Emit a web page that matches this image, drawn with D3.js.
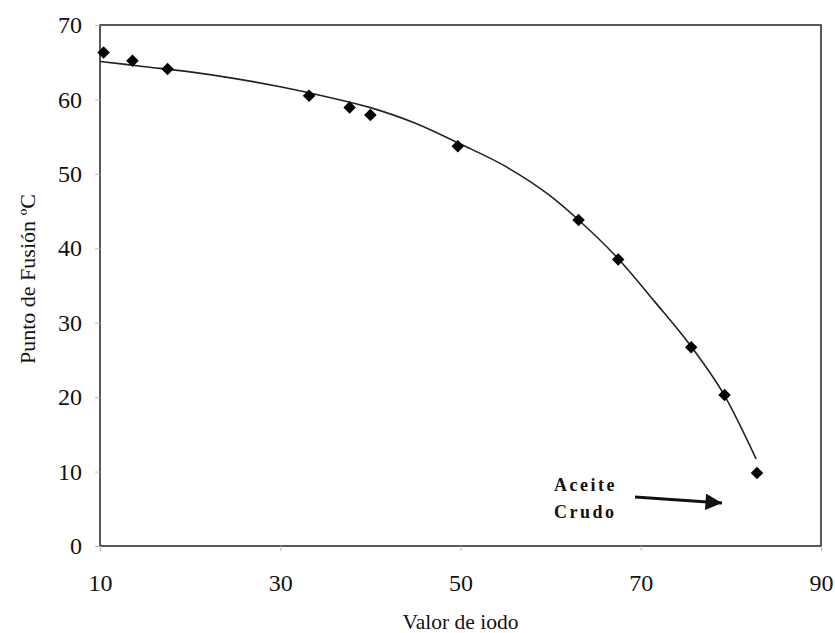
<!DOCTYPE html>
<html>
<head>
<meta charset="utf-8">
<script src="https://cdn.jsdelivr.net/npm/d3@7"></script>
<style>
  body { margin: 0; background: #fff; }
  svg text { font-family: "Liberation Serif", "DejaVu Serif", serif; fill: #111; }
</style>
</head>
<body>
<div id="chart"></div>
<script>
// Measured points (Valor de iodo, Punto de fusión)
const iodineValues = [10.4, 13.6, 17.5, 33.2, 37.7, 40.0, 49.7, 63.1, 67.5, 75.6, 79.3, 82.9];
const meltingPoints = [66.3, 65.2, 64.1, 60.5, 58.9, 57.9, 53.7, 43.8, 38.5, 26.7, 20.3, 9.8];

// Trend line
const trendX = [10, 15, 20, 25, 30, 35, 40, 45, 50, 55, 60, 63.1, 67.5, 71.5, 75.6, 79.3, 82.8];
const trendY = [65.1, 64.4, 63.7, 62.8, 61.7, 60.4, 58.9, 56.8, 54.0, 51.0, 47.0, 43.8, 38.6, 32.9, 26.8, 20.2, 11.7];

const xTicks = [10, 30, 50, 70, 90];
const yTicks = [0, 10, 20, 30, 40, 50, 60, 70];

const width = 835, height = 633;
const margin = { top: 25, right: 14, bottom: 87, left: 100 };

const svg = d3.select("#chart")
    .append("svg")
    .attr("width", width)
    .attr("height", height);

const x = d3.scaleLinear().domain([10, 90]).range([margin.left, width - margin.right]);
const y = d3.scaleLinear().domain([0, 70]).range([height - margin.bottom, margin.top]);

// plot frame
svg.append("rect")
    .attr("x", x(10))
    .attr("y", y(70))
    .attr("width", x(90) - x(10))
    .attr("height", y(0) - y(70))
    .attr("fill", "none")
    .attr("stroke", "#222")
    .attr("stroke-width", 1.5);

// axes
const xAxis = svg.append("g")
    .attr("transform", `translate(0,${y(0)})`)
    .call(d3.axisBottom(x).tickValues(xTicks).tickSize(5).tickPadding(23));
const yAxis = svg.append("g")
    .attr("transform", `translate(${x(10)},0)`)
    .call(d3.axisLeft(y).tickValues(yTicks).tickSize(5).tickPadding(13));

[xAxis, yAxis].forEach(g => {
    g.select(".domain").remove();
    g.selectAll(".tick line").attr("stroke", "#bbb");
    g.selectAll(".tick text")
        .style("font-size", "24px")
        .style("font-family", "'Liberation Serif', serif")
        .attr("fill", "#111");
});

// trend line
const trend = trendX.map((v, i) => [v, trendY[i]]);
svg.append("path")
    .datum(trend)
    .attr("fill", "none")
    .attr("stroke", "#222")
    .attr("stroke-width", 1.6)
    .attr("d", d3.line().x(d => x(d[0])).y(d => y(d[1])).curve(d3.curveMonotoneX));

// diamonds
const points = iodineValues.map((v, i) => [v, meltingPoints[i]]);
svg.selectAll(".pt")
    .data(points)
    .enter().append("path")
    .attr("class", "pt")
    .attr("d", d3.symbol().type(d3.symbolSquare).size(78))
    .attr("transform", d => `translate(${x(d[0])},${y(d[1])}) rotate(45)`)
    .attr("fill", "#000");

// axis titles
svg.append("text")
    .attr("x", (x(10) + x(90)) / 2)
    .attr("y", 629)
    .attr("text-anchor", "middle")
    .style("font-size", "21.5px")
    .text("Valor de iodo");

svg.append("text")
    .attr("transform", `translate(35,279) rotate(-90)`)
    .attr("text-anchor", "middle")
    .style("font-size", "22px")
    .text("Punto de Fusión ºC");

// annotation
svg.append("text")
    .attr("x", 554).attr("y", 491)
    .style("font-size", "18px").style("font-weight", "bold").style("letter-spacing", "2.5px")
    .text("Aceite");
svg.append("text")
    .attr("x", 554).attr("y", 518)
    .style("font-size", "18px").style("font-weight", "bold").style("letter-spacing", "2.5px")
    .text("Crudo");

svg.append("defs").append("marker")
    .attr("id", "arrow")
    .attr("viewBox", "0 0 10 10")
    .attr("refX", 10).attr("refY", 5)
    .attr("markerWidth", 7).attr("markerHeight", 5.5)
    .attr("markerUnits", "strokeWidth")
    .attr("orient", "auto")
    .append("path")
    .attr("d", "M0,0 L10,5 L0,10 Z")
    .attr("fill", "#111");

svg.append("line")
    .attr("x1", 635).attr("y1", 497)
    .attr("x2", 722).attr("y2", 503)
    .attr("stroke", "#111")
    .attr("stroke-width", 3)
    .attr("marker-end", "url(#arrow)");
</script>
</body>
</html>
